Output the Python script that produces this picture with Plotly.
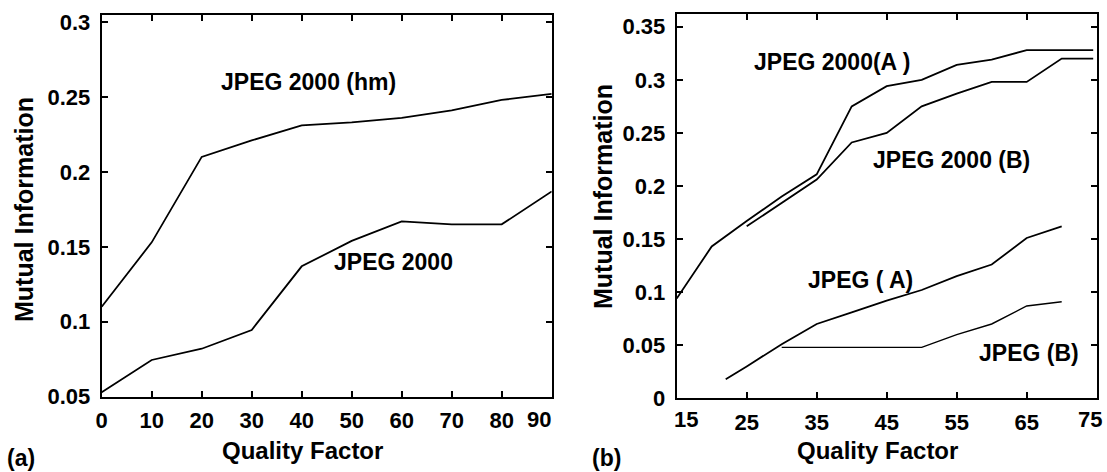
import plotly.graph_objects as go

# ---------------- data ----------------
# panel (a)
qf_a = [0, 10, 20, 30, 40, 50, 60, 70, 80, 90]
mi_j2k_hm = [0.110, 0.153, 0.210, 0.221, 0.231, 0.233, 0.236, 0.241, 0.248, 0.252]
mi_j2k = [0.053, 0.0745, 0.082, 0.0945, 0.137, 0.154, 0.167, 0.165, 0.165, 0.187]
xticks_a = [0, 10, 20, 30, 40, 50, 60, 70, 80, 90]
yticks_a = [0.05, 0.1, 0.15, 0.2, 0.25, 0.3]
yticktext_a = ["0.05", "0.1", "0.15", "0.2", "0.25", "0.3"]

# panel (b)
qf_j2k_a = [15, 20, 25, 30, 35, 40, 45, 50, 55, 60, 65, 74.5]
mi_j2k_a = [0.094, 0.143, 0.167, 0.190, 0.211, 0.275, 0.294, 0.300, 0.314, 0.319, 0.328, 0.328]
qf_j2k_b = [25, 35, 40, 45, 50, 55, 60, 65, 70, 74.5]
mi_j2k_b = [0.162, 0.206, 0.241, 0.250, 0.275, 0.287, 0.298, 0.298, 0.320, 0.320]
qf_jpeg_a = [22, 25, 30, 35, 40, 45, 50, 55, 60, 65, 70]
mi_jpeg_a = [0.018, 0.030, 0.051, 0.070, 0.081, 0.092, 0.102, 0.115, 0.126, 0.151, 0.162]
qf_jpeg_b = [30, 50, 55, 60, 65, 70]
mi_jpeg_b = [0.048, 0.048, 0.060, 0.070, 0.087, 0.091]
xticks_b = [15, 25, 35, 45, 55, 65, 75]
yticks_b = [0, 0.05, 0.1, 0.15, 0.2, 0.25, 0.3, 0.35]
yticktext_b = ["0", "0.05", "0.1", "0.15", "0.2", "0.25", "0.3", "0.35"]

# ---------------- figure ----------------
W, H = 1107, 472
FONT = "Liberation Sans, Arial, sans-serif"


def px(x):
    return x / W


def py(y):
    return 1 - y / H


line = dict(color="black", width=1.8)
fig = go.Figure()
fig.add_trace(go.Scatter(x=qf_a, y=mi_j2k_hm, mode="lines", line=line, xaxis="x", yaxis="y"))
fig.add_trace(go.Scatter(x=qf_a, y=mi_j2k, mode="lines", line=line, xaxis="x", yaxis="y"))
fig.add_trace(go.Scatter(x=qf_j2k_a, y=mi_j2k_a, mode="lines", line=line, xaxis="x2", yaxis="y2"))
fig.add_trace(go.Scatter(x=qf_j2k_b, y=mi_j2k_b, mode="lines", line=line, xaxis="x2", yaxis="y2"))
fig.add_trace(go.Scatter(x=qf_jpeg_a, y=mi_jpeg_a, mode="lines", line=line, xaxis="x2", yaxis="y2"))
fig.add_trace(go.Scatter(x=qf_jpeg_b, y=mi_jpeg_b, mode="lines", line=dict(color="black", width=1.4),
                         xaxis="x2", yaxis="y2"))

tickfont = dict(family=FONT, size=22, color="black", weight="bold")
axis_common = dict(showline=True, linecolor="black", linewidth=2, mirror="ticks",
                   ticks="inside", ticklen=6, tickwidth=1.5, tickcolor="black",
                   showgrid=False, zeroline=False, tickfont=tickfont, fixedrange=True,
                   automargin=False)

xt_text_a = [str(v) for v in xticks_a[:-1]] + [""]
xt_text_b = [""] + [str(v) for v in xticks_b[1:-1]] + [""]

fig.update_layout(
    width=W, height=H,
    margin=dict(l=0, r=0, t=0, b=0, autoexpand=False),
    paper_bgcolor="white", plot_bgcolor="white",
    showlegend=False,
    xaxis=dict(domain=[px(101.7), px(551.7)], range=[0, 90], anchor="y",
               tickvals=xticks_a, ticktext=xt_text_a, ticklabelstandoff=3, **axis_common),
    yaxis=dict(domain=[py(396.7), py(15)], range=[0.05, 0.3047], anchor="x",
               tickvals=yticks_a, ticktext=yticktext_a, ticklabelstandoff=5, **axis_common),
    xaxis2=dict(domain=[px(676.7), px(1096.7)], range=[15, 75], anchor="y2",
                tickvals=xticks_b, ticktext=xt_text_b, ticklabelstandoff=3, **axis_common),
    yaxis2=dict(domain=[py(398.3), py(14)], range=[0, 0.362], anchor="x2",
                tickvals=yticks_b, ticktext=yticktext_b, ticklabelstandoff=5, **axis_common),
)

lab = dict(family=FONT, size=23, color="black", weight="bold")
ttl = dict(family=FONT, size=25, color="black", weight="bold")
qft = dict(family=FONT, size=24, color="black", weight="bold")
C = dict(showarrow=False, xanchor="center", yanchor="middle")
ann = []
# curve labels (data coordinates)
ann.append(dict(text="JPEG 2000 (hm)", x=41.3, y=0.2602, xref="x", yref="y", font=lab, **C))
ann.append(dict(text="JPEG 2000", x=58.4, y=0.140, xref="x", yref="y", font=lab, **C))
ann.append(dict(text="JPEG 2000(A )", x=37.2, y=0.3171, xref="x2", yref="y2", font=lab, **C))
ann.append(dict(text="JPEG 2000 (B)", x=54.3, y=0.2245, xref="x2", yref="y2", font=lab, **C))
ann.append(dict(text="JPEG ( A)", x=41.2, y=0.1114, xref="x2", yref="y2", font=lab, **C))
ann.append(dict(text="JPEG (B)", x=65.3, y=0.0424, xref="x2", yref="y2", font=lab, **C))
# edge tick labels, nudged inward as in the original
ann.append(dict(text=str(xticks_a[-1]), x=xticks_a[-1], y=py(419), xref="x", yref="paper",
                xshift=-13, font=tickfont, **C))
ann.append(dict(text=str(xticks_b[0]), x=xticks_b[0], y=py(419), xref="x2", yref="paper",
                xshift=9, font=tickfont, **C))
ann.append(dict(text=str(xticks_b[-1]), x=xticks_b[-1], y=py(419), xref="x2", yref="paper",
                xshift=-7, font=tickfont, **C))
# axis titles
ann.append(dict(text="Mutual Information", x=px(24), y=py(210), xref="paper", yref="paper",
                textangle=-90, font=ttl, **C))
ann.append(dict(text="Mutual Information", x=px(603), y=py(197), xref="paper", yref="paper",
                textangle=-90, font=ttl, **C))
ann.append(dict(text="Quality Factor", x=px(302), y=py(450), xref="paper", yref="paper", font=qft, **C))
ann.append(dict(text="Quality Factor", x=px(878), y=py(450), xref="paper", yref="paper", font=qft, **C))
ann.append(dict(text="(a)", x=px(21), y=py(458), xref="paper", yref="paper", font=lab, **C))
ann.append(dict(text="(b)", x=px(606), y=py(458), xref="paper", yref="paper", font=lab, **C))
fig.update_layout(annotations=ann)

fig.write_html("out.html", config={"displayModeBar": False},
               post_script="document.body.style.margin='0';document.body.style.padding='0';")
